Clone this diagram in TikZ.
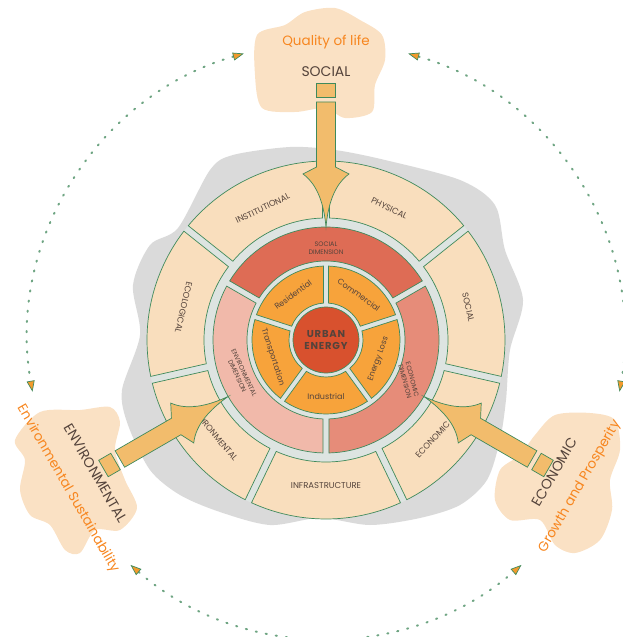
\documentclass[tikz,border=0pt]{standalone}
\usepackage{fontspec}
\setmainfont{Poppins}
\usetikzlibrary{arrows.meta}

\definecolor{ringgreen}{HTML}{3F8A5C}
\definecolor{gapgray}{HTML}{DDE4E1}
\definecolor{segbeige}{HTML}{F9DEBD}
\definecolor{socred}{HTML}{DE6C55}
\definecolor{ecored}{HTML}{E68C79}
\definecolor{envpink}{HTML}{F1B9AA}
\definecolor{useorange}{HTML}{F7A33B}
\definecolor{corered}{HTML}{D8512E}
\definecolor{arrowtan}{HTML}{F2BC6C}
\definecolor{blobpeach}{HTML}{FAE1C4}
\definecolor{shadowgray}{HTML}{DADADA}
\definecolor{labelbrown}{HTML}{54433B}
\definecolor{titleorange}{HTML}{F7861F}
\definecolor{dotgreen}{HTML}{6FA583}
\definecolor{tiporange}{HTML}{F39A2C}

% annular piece: style, start angle, end angle, inner r, outer r, half gap
\newcommand{\ringpiece}[6]{%
  \pgfmathsetmacro{\pieceA}{#2+asin(#6/#4)}%
  \pgfmathsetmacro{\pieceB}{#3-asin(#6/#4)}%
  \pgfmathsetmacro{\pieceC}{#2+asin(#6/#5)}%
  \pgfmathsetmacro{\pieceD}{#3-asin(#6/#5)}%
  \path[#1] (\pieceA:#4) arc[start angle=\pieceA, end angle=\pieceB, radius=#4]
    -- (\pieceD:#5) arc[start angle=\pieceD, end angle=\pieceC, radius=#5] -- cycle;
}

\begin{document}
\begin{tikzpicture}
[x=1pt,y=1pt,
  ringline/.style={draw=ringgreen,line width=0.7pt},
  outerseg/.style={ringline,fill=segbeige},
  socdim/.style={ringline,fill=socred},
  ecodim/.style={ringline,fill=ecored},
  envdim/.style={ringline,fill=envpink},
  useseg/.style={ringline,fill=useorange},
  ringlabel/.style={text=labelbrown,font=\fontsize{8.5}{10}\selectfont,inner sep=1pt},
  dimlabel/.style={text=labelbrown,font=\fontsize{6.5}{7.5}\selectfont,align=center,inner sep=0pt},
  uselabel/.style={text=labelbrown,font=\fontsize{8}{9}\selectfont,inner sep=0pt},
  headlabel/.style={text=labelbrown,font=\fontsize{14}{16}\selectfont,inner sep=0pt},
  goallabel/.style={text=titleorange,font=\fontsize{13.5}{15}\selectfont,inner sep=0pt},
  bigarrow/.style={draw=ringgreen,line width=0.7pt,fill=arrowtan},
  cycleline/.style={draw=dotgreen,line width=2pt,line cap=round,dash pattern=on 1.2pt off 9pt,
    arrows={Triangle[length=11pt,width=8pt,fill=tiporange,line width=0.7pt,color=ringgreen]-Triangle[length=11pt,width=8pt,fill=tiporange,line width=0.7pt,color=ringgreen]}}]
\useasboundingbox (-326,-297) rectangle (297,340);

%% backgrounds
\begin{scope}[shift={(-326,340)},yscale=-1]
  \fill[shadowgray] plot[smooth cycle] coordinates {(233,155) (290,147) (335,150) (385,160)
    (460,180) (495,205) (505,250) (523,300) (510,350) (506,400) (500,440) (487,480) (460,505)
    (420,518) (370,525) (320,518) (270,525) (220,512) (180,495) (150,470) (128,425) (122,390)
    (140,335) (133,285) (150,245) (178,228) (210,170)};
  %% social cloud
  \fill[blobpeach] plot[smooth cycle] coordinates {(257,35) (285,25) (305,12) (335,8) (360,20)
    (382,35) (385,60) (375,85) (372,112) (345,118) (325,108) (295,112) (262,108) (255,75)};
  %% environmental cloud
  \fill[blobpeach] plot[smooth cycle] coordinates {(40,412) (80,410) (110,407) (120,422) (115,450)
    (125,480) (137,508) (120,530) (95,530) (80,553) (65,550) (50,525) (30,515) (20,490) (25,460) (15,440)};
  %% economic cloud
  \fill[blobpeach] plot[smooth cycle] coordinates {(555,415) (590,413) (615,420) (620,450) (610,480)
    (612,510) (600,540) (575,553) (555,545) (540,520) (510,520) (495,500) (500,470) (520,455) (535,435)};
\end{scope}

%% dotted cycle
\draw[cycleline] (106:298) arc[start angle=106, end angle=190, radius=298];
\draw[cycleline] (74:298) arc[start angle=74, end angle=-10, radius=298];
\draw[cycleline] (229:298) arc[start angle=229, end angle=311, radius=298];

%% rings
\fill[gapgray] (0,0) circle[radius=179];
\foreach \a/\b in {38.57/90, 90/141.43, 141.43/192.86, 192.86/244.29, 244.29/295.71, 295.71/347.14, -12.86/38.57}
{
  \ringpiece{outerseg}{\a}{\b}{122}{179}{3.5}
}
\foreach \a/\b/\s in {30/150/socdim, 150/270/envdim, -90/30/ecodim}
{
  \ringpiece{\s}{\a}{\b}{79}{113}{3}
}
\foreach \a/\b in {90/162, 162/234, 234/306, -54/18, 18/90}
{
  \ringpiece{useseg}{\a}{\b}{37}{74}{2.5}
}
\node (core) at (0,0) [circle,minimum size=66pt,inner sep=0pt,ringline,fill=corered,
  text=labelbrown,font=\fontsize{10}{12}\selectfont\bfseries\addfontfeatures{LetterSpace=8},align=center]
  {URBAN\\ENERGY};

%% ring labels
\foreach \nodename/\ang/\rot/\txt in {
  inst/115.7/25.7/INSTITUTIONAL, phys/64.3/-25.7/PHYSICAL, socl/12.9/-77.1/SOCIAL,
  econ/-43/47/ECONOMIC, infra/-90/0/INFRASTRUCTURE, envi/220/-50/ENVIRONMENTAL,
  ecol/167.1/-102.9/ECOLOGICAL}
{
  \node (\nodename) at (\ang:146) [ringlabel,rotate=\rot] {\txt};
}
\foreach \nodename/\ang/\rot/\txt in {
  socdimlabel/90/0/SOCIAL, ecodimlabel/-26/-75/ECONOMIC, envdimlabel/202/-65/ENVIRONMENTAL}
{
  \node (\nodename) at (\ang:92) [dimlabel,rotate=\rot] {\txt\\DIMENSION};
}
\foreach \nodename/\ang/\rot/\txt in {
  resi/126/36/Residential, comm/54/-36/Commercial, loss/-20/70/Energy Loss,
  indu/-90/0/Industrial, tran/198/-72/Transportation}
{
  \node (\nodename) at (\ang:56) [uselabel,rotate=\rot] {\txt};
}

%% arrows from the three pillars
\foreach \ang in {0,120,240}
{
  \begin{scope}[rotate=\ang]
    \path[bigarrow] (0,113) .. controls (2,135) and (8,155) .. (23,166) -- (9.5,173) -- (9.5,238)
      -- (-9.5,238) -- (-9.5,173) -- (-23,166) .. controls (-8,155) and (-2,135) .. (0,113) -- cycle;
    \path[bigarrow] (-9.5,243) rectangle (9.5,257);
  \end{scope}
}

%% pillar titles
\node (quality) at (90:298) [goallabel] {Quality of life};
\node (social) at (90:268) [headlabel] {SOCIAL};
\node (envtitle) at (210:266) [headlabel,rotate=-60] {ENVIRONMENTAL};
\node (envgoal) at (210:298) [goallabel,rotate=-60] {Environmental Sustainability};
\node (ecotitle) at (-30:264) [headlabel,rotate=60] {ECONOMIC};
\node (ecogoal) at (-30:293) [goallabel,rotate=60] {Growth and Prosperity};
\end{tikzpicture}
\end{document}
